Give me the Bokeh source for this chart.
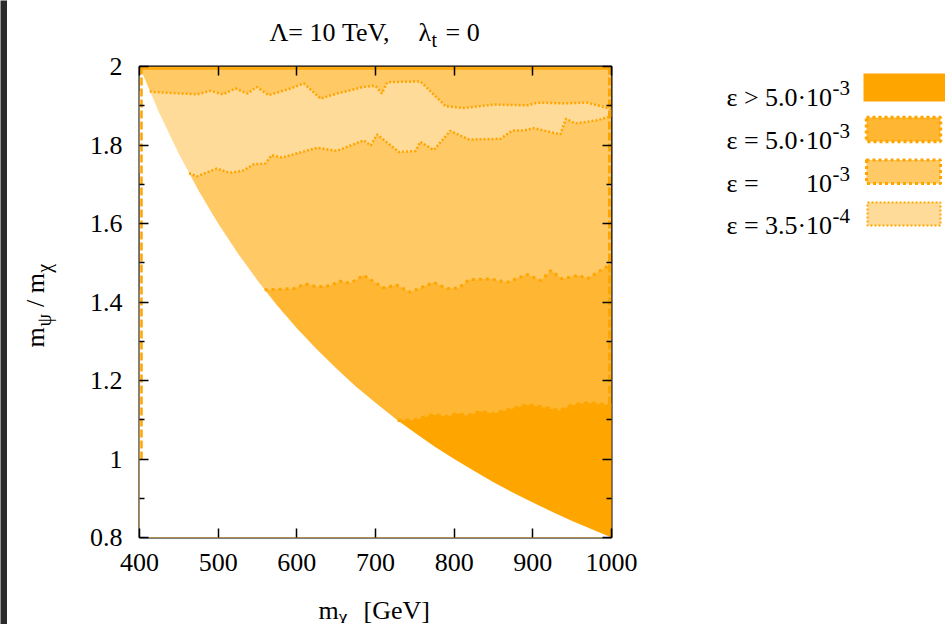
import math
from bokeh.plotting import figure
from bokeh.layouts import row, column
from bokeh.models import Range1d, FixedTicker, LinearAxis, CustomJSTickFormatter
from bokeh.core.properties import value
from bokeh.embed import file_html
from bokeh.resources import INLINE

# ---------------- data ----------------
x_ticks = [400, 500, 600, 700, 800, 900, 1000]
y_ticks = [0.8, 1.0, 1.2, 1.4, 1.6, 1.8, 2.0]
y_minor = [0.9, 1.1, 1.3, 1.5, 1.7, 1.9]

# kinematic limit (lower-left white area)
m_chi = [400, 425, 450, 475, 500, 525, 550, 575, 600, 625, 650, 675, 700,
         725, 750, 775, 800, 825, 850, 875, 900, 925, 950, 975, 1000]
kin_limit = [2.000, 1.882, 1.778, 1.684, 1.600, 1.524, 1.455, 1.391, 1.333, 1.280,
             1.231, 1.185, 1.143, 1.103, 1.067, 1.032, 1.000, 0.970, 0.941, 0.914,
             0.889, 0.865, 0.842, 0.821, 0.800]

# eps = 3.5e-4 contour, upper branch
c35_up_x = [413, 417, 473, 490, 506, 522, 537, 549, 564, 592, 609, 630, 651, 685,
            700, 708, 715, 757, 789, 812, 850, 893, 906, 939, 969, 997, 1000]
c35_up_y = [1.937, 1.935, 1.929, 1.938, 1.929, 1.944, 1.931, 1.948, 1.927, 1.944,
            1.957, 1.918, 1.931, 1.948, 1.951, 1.931, 1.960, 1.962, 1.899, 1.894,
            1.903, 1.901, 1.908, 1.906, 1.908, 1.893, 1.890]
# eps = 3.5e-4 contour, lower branch
c35_lo_x = [463, 473, 498, 515, 532, 545, 560, 568, 581, 626, 651, 685, 694, 702,
            730, 751, 757, 774, 795, 819, 859, 874, 889, 901, 916, 935, 942, 954,
            982, 997, 1000]
c35_lo_y = [1.728, 1.720, 1.740, 1.729, 1.735, 1.751, 1.753, 1.774, 1.768, 1.793,
            1.785, 1.812, 1.799, 1.827, 1.782, 1.785, 1.808, 1.787, 1.836, 1.814,
            1.816, 1.837, 1.837, 1.843, 1.836, 1.827, 1.867, 1.855, 1.863, 1.872,
            1.875]
# eps = 1e-3 contour
c10_x = [559, 596, 611, 626, 643, 655, 668, 685, 710, 727, 744, 774, 791, 806,
         819, 846, 867, 893, 910, 923, 937, 958, 969, 990, 997, 1000]
c10_y = [1.431, 1.434, 1.446, 1.438, 1.442, 1.453, 1.448, 1.468, 1.436, 1.443,
         1.425, 1.450, 1.434, 1.436, 1.457, 1.459, 1.450, 1.470, 1.455, 1.480,
         1.459, 1.468, 1.459, 1.485, 1.493, 1.495]
# eps = 5e-3 contour
c50_x = [728, 749, 774, 791, 804, 817, 833, 850, 867, 893, 910, 935, 948, 969, 988, 1000]
c50_y = [1.099, 1.099, 1.113, 1.108, 1.116, 1.110, 1.121, 1.115, 1.125, 1.138,
         1.133, 1.123, 1.136, 1.143, 1.139, 1.139]

legend_prefix = ["ε > 5.0·", "ε = 5.0·", "ε =", "ε = 3.5·"]
legend_base = ["10", "10", "10", "10"]
legend_exp = ["-3", "-3", "-3", "-4"]

C_DARK = "#FFA500"
C_MID = "#FFB733"
C_LIGHT = "#FFC966"
C_PALE = "#FFDB99"
FONT = "Liberation Serif"

# ---------------- geometry (page pixels) ----------------
W, H = 945, 623
EDGE = 7            # dark strip at the left edge of the picture
FX0, FX1, FY0, FY1 = 139, 611, 66, 537
TOP_H = 52          # title strip height
BOT_Y = 583         # start of x-label strip
YL_W = 70           # y-label strip right edge
LEG_X = 648         # start of legend panel
x_lo, x_hi = min(x_ticks), max(x_ticks)
y_lo, y_hi = min(y_ticks), max(y_ticks)


def dx(px):
    return x_lo + (px - FX0) * (x_hi - x_lo) / (FX1 - FX0)


def dy(py):
    return y_lo + (FY1 - py) * (y_hi - y_lo) / (FY1 - FY0)


def strip(x0, x1, h, ry0, ry1):
    """Panel without axes; its drawing area is addressed in page pixels
    (y given as minus the page row) over the rows ry0..ry1."""
    f = figure(width=x1 - x0, height=h, x_range=Range1d(x0, x1),
               y_range=Range1d(-ry1, -ry0), x_axis_type=None, y_axis_type=None,
               output_backend="svg", toolbar_location=None, min_border=0)
    f.outline_line_color = None
    f.grid.visible = False
    return f


def txt(f, px, py, texts, size="26px", align="left", angle=0.0):
    n = len(texts)
    f.text(x=list(px) if isinstance(px, list) else [px] * n,
           y=[-v for v in py] if isinstance(py, list) else [-py] * n,
           text=texts, text_font=value(FONT), text_font_size=value(size),
           text_baseline="alphabetic", text_align=align, text_color="black",
           angle=angle)


# ---------------- main plot ----------------
main_w = LEG_X - YL_W
main_h = BOT_Y - TOP_H
p = figure(width=main_w, height=main_h, frame_width=FX1 - FX0, frame_height=FY1 - FY0,
           x_range=Range1d(x_lo, x_hi), y_range=Range1d(y_lo, y_hi),
           output_backend="svg", toolbar_location=None,
           min_border_left=FX0 - YL_W, min_border_top=FY0 - TOP_H,
           min_border_right=LEG_X - FX1, min_border_bottom=BOT_Y - FY1)
p.grid.visible = False
p.outline_line_color = "black"
p.outline_line_width = 2

# filled regions
p.quad(left=[x_lo], right=[x_hi], bottom=[y_lo], top=[y_hi], fill_color=C_LIGHT, line_color=None)
band_x = [x_lo] + c35_up_x + c35_lo_x[::-1] + [x_lo]
band_y = [c35_up_y[0]] + c35_up_y + c35_lo_y[::-1] + [c35_lo_y[0]]
p.patch(band_x, band_y, fill_color=C_PALE, line_color=None)
p.patch([x_lo] + c10_x + [x_hi, x_lo], [c10_y[0]] + c10_y + [y_lo, y_lo],
        fill_color=C_MID, line_color=None)
p.patch([x_lo] + c50_x + [x_hi, x_lo], [c50_y[0]] + c50_y + [y_lo, y_lo],
        fill_color=C_DARK, line_color=None)
p.patch(m_chi + [x_lo], kin_limit + [y_lo], fill_color="white", line_color=None)

# contour lines
p.line(c35_up_x, c35_up_y, line_color=C_DARK, line_width=2.5, line_dash="2 2")
p.line(c35_lo_x, c35_lo_y, line_color=C_DARK, line_width=2.5, line_dash="2 2")
p.line(c10_x, c10_y, line_color=C_DARK, line_width=3, line_dash="3 4")
p.line(c50_x, c50_y, line_color=C_DARK, line_width=3.5, line_dash="4 4")

# contour pieces running along the frame edges
p.line([x_lo, x_hi], [dy(68)] * 2, line_color=C_DARK, line_width=2.5)
p.line([dx(141)] * 2, [y_hi, 1.0], line_color=C_DARK, line_width=2.5, line_dash="8 3")
p.line([dx(609)] * 2, [y_hi, 1.09], line_color=C_DARK, line_width=3, line_dash="8 3")

# axes
xt = FixedTicker(ticks=x_ticks, minor_ticks=[])
yt = FixedTicker(ticks=y_ticks, minor_ticks=y_minor)
fmt = CustomJSTickFormatter(code="return (Math.round(tick*10)/10).toString();")
blank = CustomJSTickFormatter(code="return '';")

bottom_ax = p.below[0]
left_ax = p.left[0]
bottom_ax.ticker = xt
left_ax.ticker = yt
bottom_ax.formatter = fmt
left_ax.formatter = fmt
top_ax = LinearAxis(ticker=xt, formatter=blank)
right_ax = LinearAxis(ticker=yt, formatter=blank)
p.add_layout(top_ax, "above")
p.add_layout(right_ax, "right")
for ax in (bottom_ax, left_ax, top_ax, right_ax):
    ax.axis_line_color = None
    ax.major_tick_in = 9
    ax.major_tick_out = 0
    ax.minor_tick_in = 5
    ax.minor_tick_out = 0
    ax.major_tick_line_width = 1.5
    ax.minor_tick_line_width = 1.5
    ax.major_tick_line_color = "black"
    ax.minor_tick_line_color = "black"
    ax.major_label_text_font = FONT
    ax.major_label_text_font_size = "26px"
    ax.major_label_text_color = "black"
for ax in (top_ax, right_ax):
    ax.major_label_standoff = 0
    ax.major_label_text_font_size = "0px"
bottom_ax.major_label_standoff = 16
left_ax.major_label_standoff = 17

# ---------------- dark left edge ----------------
edge_f = figure(width=EDGE, height=624, x_axis_type=None, y_axis_type=None,
                output_backend="svg", toolbar_location=None, min_border=0)
edge_f.outline_line_color = None
edge_f.grid.visible = False
edge_f.background_fill_color = "#2b2b2b"
edge_f.border_fill_color = "#2b2b2b"

# ---------------- title strip ----------------
title_f = strip(EDGE, W, TOP_H, 0, TOP_H)
txt(title_f, [269, 418, 445], [32, 32, 32], ["Λ= 10 TeV,", "λ", "= 0"])
txt(title_f, 431, 39, ["t"], size="20px")

# ---------------- y-label strip (its drawing area lines up with the plot frame) ----------------
ylab_f = strip(EDGE, YL_W, main_h, FY0, FY1)
txt(ylab_f, [35, 35, 35], [347, 306.5, 292.8], ["m", "/", "m"], angle=math.pi / 2)
txt(ylab_f, [43, 43], [326, 272.3], ["ψ", "χ"], size="20px", angle=math.pi / 2)

# ---------------- x-label strip ----------------
xlab_f = strip(EDGE, W, H - BOT_Y, BOT_Y, H)
txt(xlab_f, [318, 363], [610, 610], ["m", "[GeV]"])
txt(xlab_f, 338, 616, ["χ"], size="20px")

# ---------------- legend panel (drawing area lines up with the plot frame) ----------------
leg = strip(LEG_X, W, main_h, FY0, FY1)
rows_base = [97, 140, 183, 225]
txt(leg, [726] * 4, rows_base, legend_prefix)
txt(leg, [831.5] * 4, rows_base, legend_base, align="right")
txt(leg, [832] * 4, [b - 9.5 for b in rows_base], legend_exp, size="21px")

leg.quad(left=[863], right=[W + 5], top=[-73], bottom=[-101], fill_color=C_DARK, line_color=None)
leg.quad(left=[866], right=[940], top=[-117], bottom=[-141], fill_color=C_MID,
         line_color=C_DARK, line_width=3.5, line_dash="3 3")
leg.quad(left=[866], right=[940], top=[-159.5], bottom=[-183], fill_color=C_LIGHT,
         line_color=C_DARK, line_width=3, line_dash="3 3")
leg.quad(left=[867], right=[940], top=[-202], bottom=[-225], fill_color=C_PALE,
         line_color=C_DARK, line_width=2, line_dash="2 2")

layout = row(edge_f, column(title_f, row(ylab_f, p, leg), xlab_f))
open("out.html", "w").write(file_html(layout, INLINE))
